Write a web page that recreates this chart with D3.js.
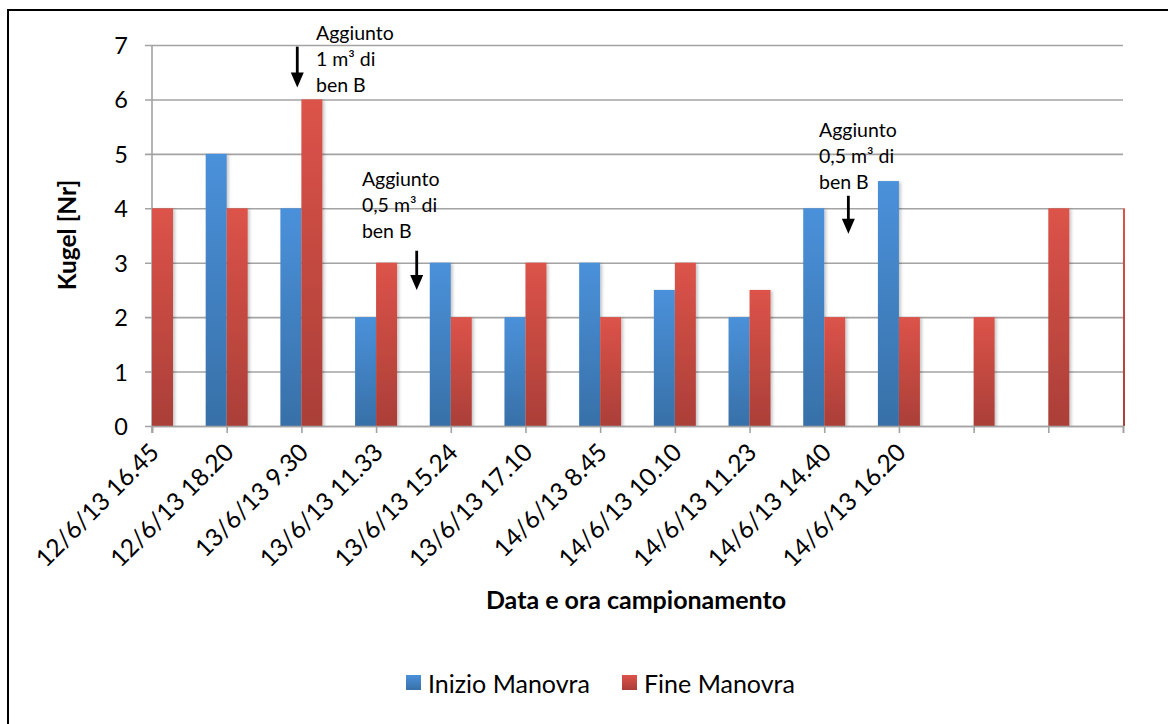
<!DOCTYPE html>
<html>
<head>
<meta charset="utf-8">
<script src="https://cdn.jsdelivr.net/npm/d3@7"></script>
<style>
  html, body { margin: 0; padding: 0; background: #fff; }
  svg { display: block; font-family: Lato, "Open Sans", sans-serif; }
</style>
</head>
<body>
<svg id="chart" width="1168" height="724"></svg>
<script>
// Sampling times (the last three slots have no label)
const categories = [
  "12/6/13 16.45", "12/6/13 18.20", "13/6/13 9.30", "13/6/13 11.33",
  "13/6/13 15.24", "13/6/13 17.10", "14/6/13 8.45", "14/6/13 10.10",
  "14/6/13 11.23", "14/6/13 14.40", "14/6/13 16.20", "", "", ""
];
// Kugel count at start of manoeuvre
const inizioManovra = [null, 5, 4, 2, 3, 2, 3, 2.5, 2, 4, 4.5, null, null, null];
// Kugel count at end of manoeuvre
const fineManovra = [4, 4, 6, 3, 2, 3, 2, 3, 2.5, 2, 2, 2, 4, 4];
const yTicks = [0, 1, 2, 3, 4, 5, 6, 7];
const seriesNames = ["Inizio Manovra", "Fine Manovra"];
// Notes on bentonite additions (positions in category / value units)
const notes = [
  { at: 1.945, arrowTop: 6.97, arrowTip: 6.22, textAt: 2.196, baseValue: 7.09, lines: ["Aggiunto", "1 m\u00B3 di", "ben B"] },
  { at: 3.544, arrowTop: 3.22, arrowTip: 2.50, textAt: 2.81, baseValue: 4.41, lines: ["Aggiunto", "0,5 m\u00B3 di", "ben B"] },
  { at: 9.323, arrowTop: 4.23, arrowTip: 3.53, textAt: 8.93, baseValue: 5.31, lines: ["Aggiunto", "0,5 m\u00B3 di", "ben B"] }
];

const svg = d3.select("#chart");
const plotLeft = 152, plotRight = 1123, plotTop = 45, plotBottom = 426;

const x = d3.scaleLinear().domain([0, categories.length - 1]).range([plotLeft, plotRight]);
const y = d3.scaleLinear().domain([0, 7]).range([plotBottom, plotTop]);
const barW = 21;
const gridColor = "#a3a3a3";

const defs = svg.append("defs");
function grad(id, c1, c2) {
  const g = defs.append("linearGradient").attr("id", id)
    .attr("x1", 0).attr("y1", 0).attr("x2", 0).attr("y2", 1);
  g.append("stop").attr("offset", "0%").attr("stop-color", c1);
  g.append("stop").attr("offset", "100%").attr("stop-color", c2);
}
grad("gBlue", "#4a91da", "#3870a8");
grad("gRed", "#dc5349", "#aa3f38");
const sh = defs.append("filter").attr("id", "shadow")
  .attr("x", "-30%").attr("y", "-5%").attr("width", "160%").attr("height", "110%");
sh.append("feDropShadow").attr("dx", 2).attr("dy", 1).attr("stdDeviation", 1.5)
  .attr("flood-color", "#000").attr("flood-opacity", 0.22);
defs.append("clipPath").attr("id", "plotClip")
  .append("rect").attr("x", plotLeft).attr("y", 0).attr("width", plotRight - plotLeft + 2).attr("height", plotBottom);

// Outer frame
svg.append("rect").attr("x", 8).attr("y", 10).attr("width", 1170).attr("height", 720)
  .attr("fill", "none").attr("stroke", "#000").attr("stroke-width", 2);

// Horizontal gridlines and y axis
const yAxis = d3.axisLeft(y).tickValues(yTicks).tickSize(-(plotRight - plotLeft + 7)).tickPadding(17)
  .tickFormat(d3.format("d"));
const gy = svg.append("g").attr("transform", `translate(${plotLeft - 7},0)`).call(yAxis)
  .attr("font-family", null).attr("font-size", null);
gy.select(".domain").remove();
gy.selectAll(".tick line").attr("stroke", gridColor).attr("stroke-width", 1.6);
gy.selectAll(".tick text").attr("font-size", 23.5).attr("fill", "#000").attr("dy", "0.36em")
  .attr("x", -17);
svg.append("line").attr("x1", plotLeft).attr("x2", plotLeft).attr("y1", plotTop).attr("y2", plotBottom + 7)
  .attr("stroke", gridColor).attr("stroke-width", 1.6);

// Bars
const plot = svg.append("g").attr("clip-path", "url(#plotClip)");
plot.selectAll("rect.inizio").data(inizioManovra.map((v, i) => ({ v, i })).filter(d => d.v != null))
  .join("rect").attr("class", "inizio")
  .attr("x", d => x(d.i) - barW).attr("width", barW)
  .attr("y", d => y(d.v)).attr("height", d => y(0) - y(d.v))
  .attr("fill", "url(#gBlue)").attr("filter", "url(#shadow)");
plot.selectAll("rect.fine").data(fineManovra.map((v, i) => ({ v, i })).filter(d => d.v != null))
  .join("rect").attr("class", "fine")
  .attr("x", d => x(d.i)).attr("width", barW)
  .attr("y", d => y(d.v)).attr("height", d => y(0) - y(d.v))
  .attr("fill", "url(#gRed)").attr("filter", "url(#shadow)");

// x axis with slanted labels
const xAxis = d3.axisBottom(x).tickValues(d3.range(categories.length)).tickSize(7)
  .tickFormat(i => categories[i]);
const gx = svg.append("g").attr("transform", `translate(0,${plotBottom})`).call(xAxis)
  .attr("font-family", null).attr("font-size", null);
gx.select(".domain").attr("stroke", gridColor).attr("stroke-width", 1.6);
gx.selectAll(".tick line").attr("stroke", gridColor).attr("stroke-width", 1.6);
gx.selectAll(".tick text").attr("font-size", 24.5).attr("fill", "#000")
  .attr("text-anchor", "end").attr("dy", 0).attr("y", 0).attr("x", 0)
  .attr("transform", "translate(8,28) rotate(-45)");

// Axis titles
svg.append("text").attr("x", 636).attr("y", 609).attr("text-anchor", "middle")
  .attr("font-size", 25).attr("font-weight", "bold").text("Data e ora campionamento");
svg.append("text").attr("transform", "translate(76,235) rotate(-90)").attr("text-anchor", "middle")
  .attr("font-size", 24.5).attr("font-weight", "bold").text("Kugel [Nr]");

// Legend
const colors = ["url(#gBlue)", "url(#gRed)"];
const legX = [406, 622];
const legend = svg.append("g");
seriesNames.forEach((n, k) => {
  legend.append("rect").attr("x", legX[k]).attr("y", 675).attr("width", 15).attr("height", 15)
    .attr("fill", colors[k]);
  legend.append("text").attr("x", legX[k] + 22).attr("y", 693).attr("font-size", 25).text(n);
});

// Notes with downward arrows
notes.forEach(nt => {
  const t = svg.append("text").attr("font-size", 19.5).attr("fill", "#000");
  nt.lines.forEach((ln, j) => {
    t.append("tspan").attr("x", x(nt.textAt)).attr("y", y(nt.baseValue) + j * 26).text(ln);
  });
  const ax = x(nt.at), yTop = y(nt.arrowTop), yTip = y(nt.arrowTip);
  const headLen = 15, headHalf = 6.5;
  svg.append("line").attr("x1", ax).attr("x2", ax).attr("y1", yTop).attr("y2", yTip - headLen + 1)
    .attr("stroke", "#000").attr("stroke-width", 2.8);
  svg.append("path")
    .attr("d", `M${ax - headHalf},${yTip - headLen} L${ax + headHalf},${yTip - headLen} L${ax},${yTip} Z`)
    .attr("fill", "#000");
});
</script>
</body>
</html>
